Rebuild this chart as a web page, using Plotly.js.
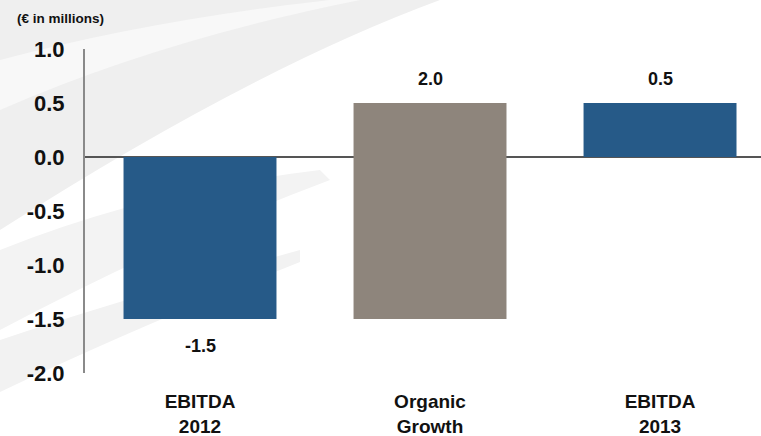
<!DOCTYPE html>
<html>
<head>
<meta charset="utf-8">
<script src="https://cdn.plot.ly/plotly-3.0.1.min.js"></script>
<style>
  html, body { margin: 0; padding: 0; background: #ffffff; }
  #chart { width: 761px; height: 436px; }
</style>
</head>
<body>
<div id="chart"></div>
<script>
// EBITDA bridge 2012 -> 2013 (€ in millions)
const categories = ["EBITDA<br>2012", "Organic<br>Growth", "EBITDA<br>2013"];
const values = [-1.5, 2.0, 0.5];
const measures = ["absolute", "relative", "total"];
const valueLabels = ["-1.5", "2.0", "0.5"];
const yTicks = [1.0, 0.5, 0.0, -0.5, -1.0, -1.5, -2.0];
const yTickLabels = ["1.0", "0.5", "0.0", "-0.5", "-1.0", "-1.5", "-2.0"];

const BLUE = "#265a88";
const TAUPE = "#8e857c";
const FONT = "Liberation Sans, Arial, sans-serif";

// running end level of each step, used to place the value labels
const ends = [];
let level = 0;
values.forEach((v, i) => {
  if (measures[i] === "absolute") level = v;
  else if (measures[i] === "relative") level += v;
  ends.push(level);
});

const labelAnnotations = categories.map((c, i) => {
  const below = values[i] < 0;
  return {
    x: c, y: ends[i], xref: "x", yref: "y",
    text: "<b>" + valueLabels[i] + "</b>",
    showarrow: false,
    yanchor: below ? "top" : "bottom",
    yshift: below ? -15 : 12,
    font: { family: FONT, size: 18, color: "#111111" }
  };
});

// soft decorative backdrop swooshes (pixel coordinates converted to paper space)
const W = 761, H = 436, L = 85, R = 0, T = 49, B = 63;
const pw = W - L - R, ph = H - T - B;
function P(x, y) { return ((x - L) / pw).toFixed(4) + "," + ((H - B - y) / ph).toFixed(4); }
const swooshes = [
  { path: "M" + P(0, 0) + " L" + P(440, 0) + " Q" + P(250, 70) + " " + P(0, 230) + " Z", color: "#efefef" },
  { path: "M" + P(0, 250) + " Q" + P(150, 190) + " " + P(320, 170) + " L" + P(330, 180) + " Q" + P(170, 240) + " " + P(0, 330) + " Z", color: "#f3f3f3" },
  { path: "M" + P(0, 340) + " Q" + P(120, 300) + " " + P(300, 250) + " L" + P(300, 262) + " Q" + P(130, 330) + " " + P(0, 392) + " Z", color: "#f2f2f2" },
  { path: "M" + P(0, 60) + " Q" + P(150, 20) + " " + P(330, 0) + " L" + P(360, 0) + " Q" + P(160, 40) + " " + P(0, 110) + " Z", color: "#f8f8f8" }
];
const shapes = swooshes.map(s => ({
  type: "path", xref: "paper", yref: "paper", path: s.path,
  fillcolor: s.color, line: { width: 0 }, layer: "below"
}));

const trace = {
  type: "waterfall",
  x: categories,
  y: values,
  measure: measures,
  width: 0.665,
  totals: { marker: { color: BLUE, line: { width: 0 } } },
  increasing: { marker: { color: TAUPE, line: { width: 0 } } },
  decreasing: { marker: { color: BLUE, line: { width: 0 } } },
  connector: { visible: false },
  textinfo: "none",
  hoverinfo: "x+y"
};

const layout = {
  width: W, height: H,
  margin: { l: L, r: R, t: T, b: B, pad: 0 },
  paper_bgcolor: "rgba(0,0,0,0)",
  plot_bgcolor: "rgba(0,0,0,0)",
  showlegend: false,
  font: { family: FONT, color: "#111111" },
  xaxis: {
    type: "category",
    range: [-0.5, 2.439],
    showgrid: false, zeroline: false, showline: false,
    ticks: "",
    tickfont: { family: FONT, size: 19, color: "#111111", weight: "bold" },
    ticklabelstandoff: 15,
    fixedrange: true
  },
  yaxis: {
    range: [-2.0, 1.0],
    tickvals: yTicks,
    ticktext: yTickLabels,
    showgrid: false,
    zeroline: true, zerolinecolor: "#555555", zerolinewidth: 2,
    showline: true, linecolor: "#8a8a8a", linewidth: 2,
    ticks: "",
    ticklabelstandoff: 14,
    tickfont: { family: FONT, size: 22, color: "#111111", weight: "bold" },
    layer: "above traces",
    fixedrange: true
  },
  shapes: shapes,
  annotations: labelAnnotations.concat([{
    xref: "paper", yref: "paper",
    x: (15 - L) / pw, y: (H - B - 18) / ph,
    xanchor: "left", yanchor: "middle",
    text: "<b>(€ in millions)</b>",
    showarrow: false,
    font: { family: FONT, size: 13.5, color: "#111111" }
  }])
};

Plotly.newPlot("chart", [trace], layout, { displayModeBar: false, staticPlot: true });
</script>
</body>
</html>
